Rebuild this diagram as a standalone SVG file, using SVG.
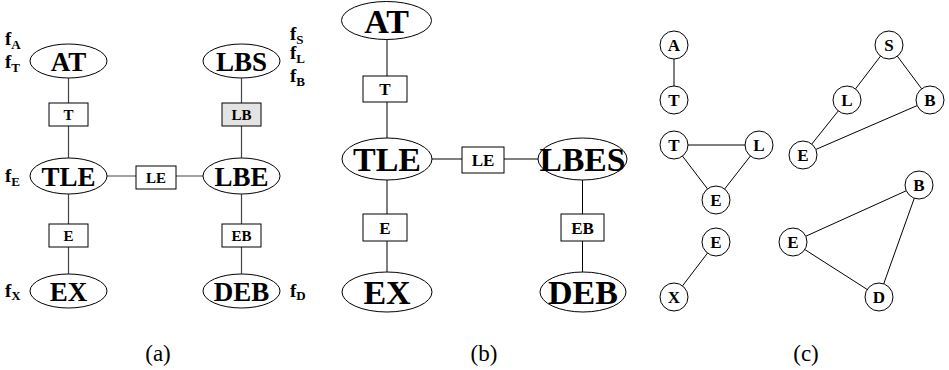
<svg xmlns="http://www.w3.org/2000/svg" width="949" height="370" viewBox="0 0 949 370">
<style>
.e{fill:#fff;stroke:#000;stroke-width:1}
.b{fill:#fff;stroke:#000;stroke-width:1}
.g{fill:#e3e3e3;stroke:#000;stroke-width:1}
.c{fill:#fff;stroke:#000;stroke-width:1}
.la{stroke:#444;stroke-width:1.2;fill:none}
.lb{stroke:#000;stroke-width:1;fill:none}
text{font-family:"Liberation Serif","Times New Roman",serif;font-weight:bold;fill:#000;text-anchor:middle}
.na{font-size:27px}
.nb{font-size:34px}
.ba{font-size:15px}
.bb{font-size:17px}
.cl{font-size:17px}
.f{font-size:19px;text-anchor:start}
.f tspan{font-size:13px}
.cap{font-weight:normal;font-size:23px}
</style>
<g id="connectors">
<path class="la" d="M68.5 61V291M241.5 61V291M68.5 176H241.5"/>
<path class="lb" d="M387 20V292M582.5 159V292M387 159H582.5"/>
<path class="lb" d="M674 45V100M674 145H759M674 145L716 200M759 145L716 200M716 242L674 297M889 45L847 100M889 45L930 100M847 100L803 155M930 100L803 155M919 185L793 242M919 185L879 297M793 242L879 297"/>
</g>
<g id="a-AT"><ellipse class="e" cx="68.5" cy="61" rx="38.5" ry="17"/><text class="na" x="68.5" y="70.5">AT</text></g>
<g id="a-LBS"><ellipse class="e" cx="241.5" cy="61" rx="38.5" ry="17"/><text class="na" x="241.5" y="70.5">LBS</text></g>
<g id="a-TLE"><ellipse class="e" cx="68.5" cy="176" rx="38.5" ry="18"/><text class="na" x="68.5" y="185.5">TLE</text></g>
<g id="a-LBE"><ellipse class="e" cx="241.5" cy="176" rx="38.5" ry="18"/><text class="na" x="241.5" y="185.5">LBE</text></g>
<g id="a-EX"><ellipse class="e" cx="68.5" cy="291" rx="38.5" ry="17"/><text class="na" x="68.5" y="300.5">EX</text></g>
<g id="a-DEB"><ellipse class="e" cx="241.5" cy="291" rx="38.5" ry="17"/><text class="na" x="241.5" y="300.5">DEB</text></g>
<g id="a-T"><rect class="b" x="49" y="103" width="39" height="23"/><text class="ba" x="68.5" y="119.5">T</text></g>
<g id="a-LB"><rect class="g" x="222" y="103" width="39" height="23"/><text class="ba" x="241.5" y="119.5">LB</text></g>
<g id="a-LE"><rect class="b" x="136" y="166" width="40" height="23"/><text class="ba" x="156" y="182.5">LE</text></g>
<g id="a-E"><rect class="b" x="49" y="224" width="39" height="23"/><text class="ba" x="68.5" y="240.5">E</text></g>
<g id="a-EB"><rect class="b" x="222" y="224" width="39" height="23"/><text class="ba" x="241.5" y="240.5">EB</text></g>
<g id="a-labels">
<text class="f" x="5" y="45">f<tspan dy="4">A</tspan></text>
<text class="f" x="5" y="68">f<tspan dy="4">T</tspan></text>
<text class="f" x="5" y="182">f<tspan dy="4">E</tspan></text>
<text class="f" x="5" y="297">f<tspan dy="3">X</tspan></text>
<text class="f" x="290" y="40">f<tspan dy="4">S</tspan></text>
<text class="f" x="290" y="59">f<tspan dy="4">L</tspan></text>
<text class="f" x="290" y="82">f<tspan dy="4">B</tspan></text>
<text class="f" x="290" y="297">f<tspan dy="3">D</tspan></text>
</g>
<g id="b-AT"><ellipse class="e" cx="386.5" cy="20.5" rx="45" ry="19"/><text class="nb" x="386.5" y="32.5">AT</text></g>
<g id="b-TLE"><ellipse class="e" cx="387" cy="159" rx="45" ry="21"/><text class="nb" x="387" y="171">TLE</text></g>
<g id="b-LBES"><ellipse class="e" cx="582.5" cy="159" rx="44.5" ry="21"/><text class="nb" x="582.5" y="171" textLength="86" lengthAdjust="spacingAndGlyphs">LBES</text></g>
<g id="b-EX"><ellipse class="e" cx="387" cy="292" rx="45" ry="20"/><text class="nb" x="387" y="304">EX</text></g>
<g id="b-DEB"><ellipse class="e" cx="583" cy="292" rx="43" ry="20"/><text class="nb" x="583" y="304">DEB</text></g>
<g id="b-T"><rect class="b" x="363" y="76" width="44" height="26"/><text class="bb" x="385" y="95">T</text></g>
<g id="b-LE"><rect class="b" x="462" y="147" width="42" height="26"/><text class="bb" x="483" y="166">LE</text></g>
<g id="b-E"><rect class="b" x="363" y="214" width="44" height="27"/><text class="bb" x="385" y="233.5">E</text></g>
<g id="b-EB"><rect class="b" x="561" y="214" width="43" height="27"/><text class="bb" x="582.5" y="233.5">EB</text></g>
<g id="c-A"><circle class="c" cx="674" cy="45" r="14"/><text class="cl" x="674" y="51">A</text></g>
<g id="c-T1"><circle class="c" cx="674" cy="100" r="14"/><text class="cl" x="674" y="106">T</text></g>
<g id="c-T2"><circle class="c" cx="674" cy="145" r="14"/><text class="cl" x="674" y="151">T</text></g>
<g id="c-L1"><circle class="c" cx="759" cy="145" r="14"/><text class="cl" x="759" y="151">L</text></g>
<g id="c-E1"><circle class="c" cx="716" cy="200" r="14"/><text class="cl" x="716" y="206">E</text></g>
<g id="c-E2"><circle class="c" cx="716" cy="242" r="14"/><text class="cl" x="716" y="248">E</text></g>
<g id="c-X"><circle class="c" cx="674" cy="297" r="14"/><text class="cl" x="674" y="303">X</text></g>
<g id="c-S"><circle class="c" cx="889" cy="45" r="14"/><text class="cl" x="889" y="51">S</text></g>
<g id="c-L2"><circle class="c" cx="847" cy="100" r="14"/><text class="cl" x="847" y="106">L</text></g>
<g id="c-B1"><circle class="c" cx="930" cy="100" r="14"/><text class="cl" x="930" y="106">B</text></g>
<g id="c-E3"><circle class="c" cx="803" cy="155" r="14"/><text class="cl" x="803" y="161">E</text></g>
<g id="c-B2"><circle class="c" cx="919" cy="185" r="14"/><text class="cl" x="919" y="191">B</text></g>
<g id="c-E4"><circle class="c" cx="793" cy="242" r="14"/><text class="cl" x="793" y="248">E</text></g>
<g id="c-D"><circle class="c" cx="879" cy="297" r="14"/><text class="cl" x="879" y="303">D</text></g>
<g id="captions">
<text class="cap" x="158" y="361">(a)</text>
<text class="cap" x="484" y="361">(b)</text>
<text class="cap" x="806" y="361">(c)</text>
</g>
</svg>
